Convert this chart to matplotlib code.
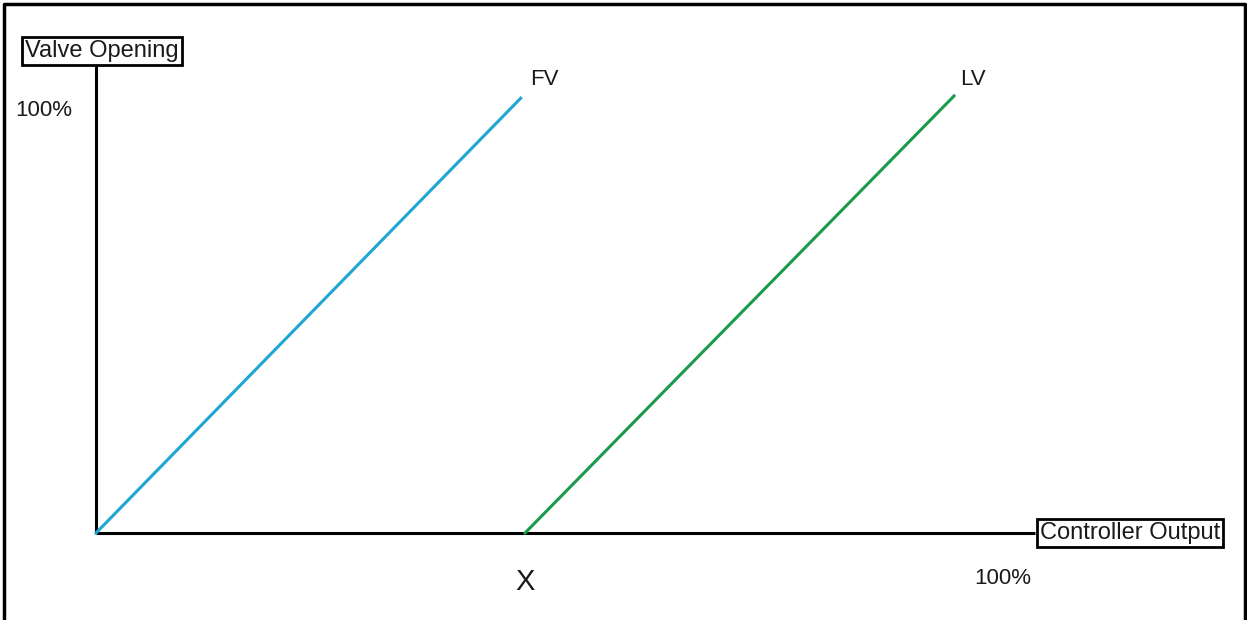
import matplotlib
matplotlib.use('Agg')
import matplotlib.pyplot as plt
from matplotlib.lines import Line2D

plt.rcParams['font.family'] = ['Liberation Sans', 'DejaVu Sans']

# controller output (%) vs valve opening (%)
x_split = 50
fv_out = [0, 49.5]
fv_open = [0, 99.5]
lv_out = [x_split, 100]
lv_open = [0, 100]

W, H = 1247, 620
fig = plt.figure(figsize=(W / 100, H / 100), dpi=100)
fig.patch.set_facecolor('white')

# axes placed so that 0..100 maps onto the drawn axis area
x0, x100 = 96, 954
y0, y100 = 533, 96
ax = fig.add_axes([x0 / W, (H - y0) / H, (x100 - x0) / W, (y0 - y100) / H])
ax.set_xlim(0, 100)
ax.set_ylim(0, 100)
ax.axis('off')

txt = '#1a1a1a'

# axis lines
ax.plot([0, 0], [0, 107.1], color='black', lw=2.2, clip_on=False, solid_capstyle='butt')
ax.plot([0, 109.4], [0, 0], color='black', lw=2.2, clip_on=False, solid_capstyle='butt')

ax.plot(fv_out, fv_open, color='#20a6d2', lw=2.2, clip_on=False)
ax.plot(lv_out, lv_open, color='#1b9a4c', lw=2.2, clip_on=False)

box = dict(boxstyle='square,pad=0.12', fc='white', ec='black', lw=2)
ax.text(0.7, 110.3, 'Valve Opening', fontsize=17, color=txt, ha='center',
        va='center', bbox=box, clip_on=False)
ax.text(120.5, 0, 'Controller Output', fontsize=17, color=txt, ha='center',
        va='center', bbox=box, clip_on=False)

ax.text(-6.1, 96.6, '100%', fontsize=16, color=txt, ha='center', va='center', clip_on=False)
ax.text(105.7, -10.5, '100%', fontsize=16, color=txt, ha='center', va='center', clip_on=False)
ax.text(x_split, -11.2, 'X', fontsize=21, color=txt, ha='center', va='center', clip_on=False)
ax.text(52.2, 103.7, 'FV', fontsize=16, color=txt, ha='center', va='center', clip_on=False)
ax.text(102.2, 103.7, 'LV', fontsize=16, color=txt, ha='center', va='center', clip_on=False)

# outer frame (left, top, right)
fx = [3.5 / W, 3.5 / W, 1244.5 / W, 1244.5 / W]
fy = [0, 1 - 4 / H, 1 - 4 / H, 0]
fig.add_artist(Line2D(fx, fy, color='black', lw=2.5, transform=fig.transFigure))

fig.savefig('out.png', dpi=100)
